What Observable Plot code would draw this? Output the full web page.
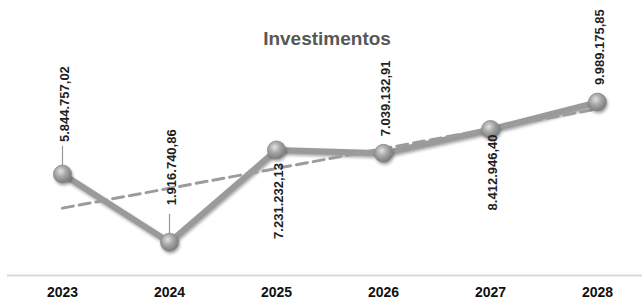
<!DOCTYPE html>
<html>
<head>
<meta charset="utf-8">
<script src="https://cdn.jsdelivr.net/npm/d3@7"></script>
<script src="https://cdn.jsdelivr.net/npm/@observablehq/plot@0.6"></script>
<style>
  html, body { margin: 0; padding: 0; background: #fff; }
  #chart svg { display: block; }
  .shadowed path { filter: drop-shadow(1px 2px 1.5px rgba(0,0,0,0.35)); }
</style>
</head>
<body>
<div id="chart"></div>
<script>
const title = "Investimentos";
const years = [2023, 2024, 2025, 2026, 2027, 2028];
const values = [5844757.02, 1916740.86, 7231232.13, 7039132.91, 8412946.40, 9989175.85];

function fmtBR(v) {
  const [int, dec] = v.toFixed(2).split(".");
  return int.replace(/\B(?=(\d{3})+(?!\d))/g, ".") + "," + dec;
}

const data = years.map((year, i) => ({year, value: values[i], label: fmtBR(values[i])}));

const font = "'Liberation Sans', Arial, sans-serif";

function valueLabel(i, dy, anchor) {
  return Plot.text([data[i]], {
    x: "year", y: "value", text: "label",
    rotate: -90, textAnchor: anchor, lineAnchor: "middle",
    dx: 2, dy, fontSize: 13, fontWeight: "bold", fill: "#1e1e1e"
  });
}

const leaderShape = {
  draw(context, l) { context.moveTo(0, 0); context.lineTo(0, -l); }
};

const chart = Plot.plot({
  width: 642,
  height: 301,
  marginLeft: 62,
  marginRight: 45,
  marginTop: 32,
  marginBottom: 26,
  style: {fontFamily: font, background: "#fff"},
  x: {axis: null, domain: [2023, 2028]},
  y: {axis: null, domain: [0, 14e6]},
  marks: [
    Plot.ruleY([0], {stroke: "#d9d9d9", strokeWidth: 2, insetLeft: -55, insetRight: -45}),
    Plot.text([title], {frameAnchor: "top", dx: -3, dy: -1, fontSize: 19, fontWeight: "bold", fill: "#575757"}),
    Plot.line(data, {x: "year", y: "value", stroke: "#9a9a9a", strokeWidth: 6, className: "shadowed"}),
    Plot.linearRegressionY(data, {x: "year", y: "value", ci: 0, stroke: "#9c9c9c", strokeWidth: 3, strokeDasharray: "11,6"}),
    Plot.vector([data[0], data[1]], {x: "year", y: "value", length: 19, anchor: "start", dy: -9, shape: leaderShape, stroke: "#9a9a9a", strokeWidth: 1.2}),
    Plot.dot(data, {x: "year", y: "value", r: 9, fill: "url(#ballGrad)", stroke: "#8a8a8a", strokeWidth: 0.8, className: "shadowed"}),
    valueLabel(0, -32, "start"),
    valueLabel(1, -37, "start"),
    valueLabel(2, 13, "end"),
    valueLabel(3, -17, "start"),
    valueLabel(4, 5, "end"),
    valueLabel(5, -17, "start"),
    Plot.text(years, {x: d => d, frameAnchor: "bottom", dy: 21, text: d => String(d), fontSize: 14, fontWeight: "bold", fill: "#111"})
  ]
});

const svg = d3.select(chart);
const defs = svg.insert("defs", ":first-child");
const g = defs.append("radialGradient").attr("id", "ballGrad").attr("cx", "40%").attr("cy", "35%").attr("r", "65%");
g.append("stop").attr("offset", "0%").attr("stop-color", "#e2e2e2");
g.append("stop").attr("offset", "45%").attr("stop-color", "#a9a9a9");
g.append("stop").attr("offset", "100%").attr("stop-color", "#7a7a7a");
svg.selectAll(".shadowed circle").style("filter", "drop-shadow(1px 2px 1.5px rgba(0,0,0,0.35))");

document.getElementById("chart").appendChild(chart);
</script>
</body>
</html>
